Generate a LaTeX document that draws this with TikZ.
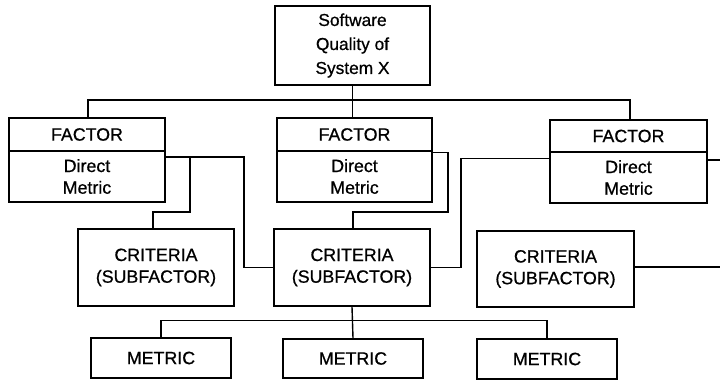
\documentclass[tikz,border=0pt]{standalone}
\usepackage{fontspec}
\setmainfont[FakeBold=0.7]{Liberation Sans}
\begin{document}
\begin{tikzpicture}[x=1pt,y=-1pt,
  box/.style={draw, line width=1.7pt, inner sep=0pt, align=center,
    font=\fontsize{17.8}{21.7}\selectfont},
  wire/.style={line width=1.4pt}]
\useasboundingbox[fill=white] (0,0) rectangle (720,380);

% root
\node[box, minimum width=155pt, minimum height=79pt,
  font=\fontsize{17.3}{24}\selectfont] (top) at (352.5,45.5)
  {Software\\Quality of\\System X};

% factors: title part and direct-metric part
\node[box, minimum width=156pt, minimum height=33pt] (flt) at (87,134.5) {FACTOR};
\node[box, minimum width=156pt, minimum height=51pt] (fld) at (87,176.5) {Direct\\Metric};
\node[box, minimum width=155pt, minimum height=33pt] (fmt) at (354.5,134.5) {FACTOR};
\node[box, minimum width=155pt, minimum height=51pt] (fmd) at (354.5,176.5) {Direct\\Metric};
\node[box, minimum width=157pt, minimum height=32pt] (frt) at (628.5,136) {FACTOR};
\node[box, minimum width=157pt, minimum height=51pt] (frd) at (628.5,177.5) {Direct\\Metric};

% criteria
\node[box, minimum width=156pt, minimum height=77pt] (cl) at (156,267.5) {CRITERIA\\(SUBFACTOR)};
\node[box, minimum width=156pt, minimum height=77pt] (cm) at (352,267.5) {CRITERIA\\(SUBFACTOR)};
\node[box, minimum width=157pt, minimum height=76pt] (cr) at (555.5,269) {CRITERIA\\(SUBFACTOR)};

% metrics
\node[box, minimum width=140pt, minimum height=40pt] (ml) at (161,358) {METRIC};
\node[box, minimum width=140pt, minimum height=39pt] (mm) at (353,358.5) {METRIC};
\node[box, minimum width=140pt, minimum height=40pt] (mr) at (547,359) {METRIC};

% routing points
\coordinate (busL) at (88,100);
\coordinate (busR) at (630,100);
\coordinate (a1) at (244,157);
\coordinate (b1) at (190,157);
\coordinate (b2) at (153,212);
\coordinate (c1) at (448,152.5);
\coordinate (c2) at (353,212);
\coordinate (d1) at (461,158.5);
\coordinate (e1) at (720,160);
\coordinate (e2) at (720,267);
\coordinate (mbus) at (162,320.5);

% root to factors
\draw[wire] (top.south) -- (top.south |- fmt.north);
\draw[wire] (busL |- flt.north) -- (busL) -- (busR) -- (busR |- frt.north);

% factors to criteria
\draw[wire] (fld.east |- a1) -- (a1) |- (cm.west);
\draw[wire] (b1) |- (b2) -- (b2 |- cl.north);
\draw[wire] (fmd.east |- c1) -- (c1) |- (c2) -- (c2 |- cm.north);
\draw[wire] (frd.west |- d1) -- (d1) |- (cm.east);
\draw[wire] (frd.east |- e1) -- (e1);
\draw[wire] (cr.east |- e2) -- (e2);

% criteria to metrics
\draw[wire] (cm.south) -- (mm.north);
\draw[wire] (ml.north) |- (mbus) -- (mbus -| mr.north) -- (mr.north);
\end{tikzpicture}
\end{document}
